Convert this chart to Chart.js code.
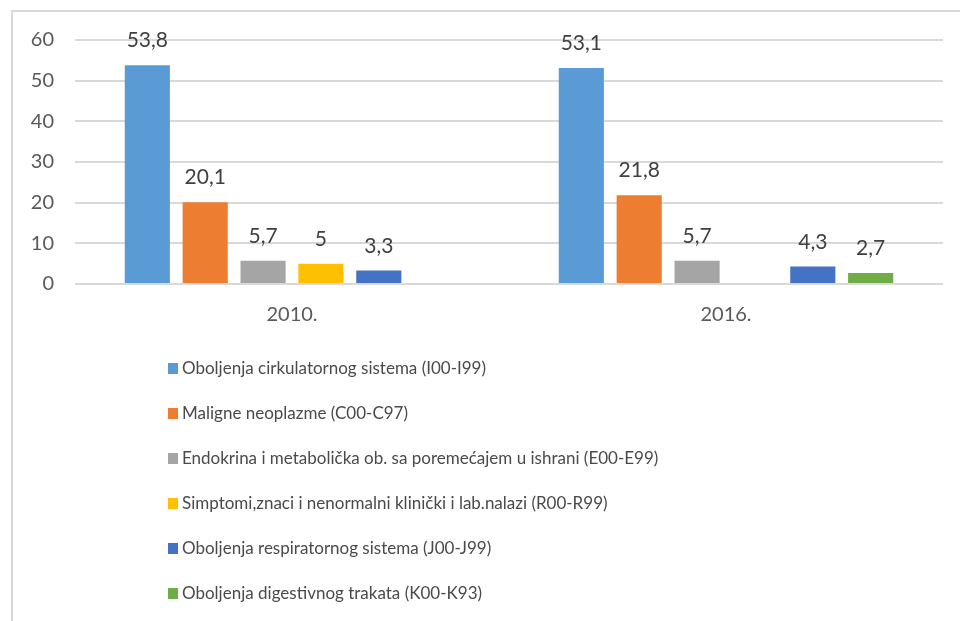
<!DOCTYPE html>
<html>
<head>
<meta charset="utf-8">
<script src="https://cdn.jsdelivr.net/npm/chart.js@4/dist/chart.umd.min.js"></script>
<style>
  html, body { margin: 0; padding: 0; background: #fff; overflow: hidden; }
  #wrap { position: relative; width: 960px; height: 621px; }
  #frame { position: absolute; left: 11px; top: 10px; width: 1000px; height: 700px; border: 2px solid #d9d9d9; box-sizing: border-box; }
  canvas { position: absolute; left: 0; top: 0; }
</style>
</head>
<body>
<div id="wrap">
  <div id="frame"></div>
  <canvas id="c" width="960" height="621"></canvas>
</div>
<script>
const categories = ['2010.', '2016.'];
const seriesNames = [
  'Oboljenja cirkulatornog sistema (I00-I99)',
  'Maligne neoplazme (C00-C97)',
  'Endokrina i metabolička ob. sa poremećajem u ishrani (E00-E99)',
  'Simptomi,znaci i nenormalni klinički i lab.nalazi (R00-R99)',
  'Oboljenja respiratornog sistema (J00-J99)',
  'Oboljenja digestivnog trakata (K00-K93)'
];
const cirkulatorno = [53.8, 53.1];
const neoplazme = [20.1, 21.8];
const endokrina = [5.7, 5.7];
const simptomi = [5, null];
const respiratorno = [3.3, 4.3];
const digestivno = [null, 2.7];
const seriesColors = ['#5B9BD5', '#ED7D31', '#A5A5A5', '#FFC000', '#4472C4', '#70AD47'];
const yTicks = [0, 10, 20, 30, 40, 50, 60];

const FONT = 'Lato, "Open Sans", sans-serif';
const allSeries = [cirkulatorno, neoplazme, endokrina, simptomi, respiratorno, digestivno];

const dataLabels = {
  id: 'dataLabels',
  afterDatasetsDraw(chart) {
    const ctx = chart.ctx;
    ctx.save();
    ctx.font = '21px ' + FONT;
    ctx.fillStyle = '#404040';
    ctx.textAlign = 'center';
    ctx.textBaseline = 'alphabetic';
    chart.data.datasets.forEach((ds, i) => {
      const meta = chart.getDatasetMeta(i);
      meta.data.forEach((bar, j) => {
        const v = ds.data[j];
        if (v === null || v === undefined) return;
        ctx.fillText(String(v).replace('.', ','), bar.x, bar.y - 18);
      });
    });
    ctx.restore();
  }
};

const customLegend = {
  id: 'customLegend',
  afterDraw(chart) {
    const ctx = chart.ctx;
    ctx.save();
    ctx.font = '17px ' + FONT;
    ctx.textBaseline = 'middle';
    ctx.textAlign = 'left';
    chart.data.datasets.forEach((ds, i) => {
      const cy = 368 + i * 45;
      ctx.fillStyle = ds.backgroundColor;
      ctx.fillRect(168, cy - 5, 10, 11);
      ctx.fillStyle = '#4a4a4a';
      ctx.fillText(ds.label, 182, cy + 1);
    });
    ctx.restore();
  }
};

new Chart(document.getElementById('c'), {
  type: 'bar',
  data: {
    labels: categories,
    datasets: allSeries.map((d, i) => ({
      label: seriesNames[i],
      data: d,
      backgroundColor: seriesColors[i],
      borderWidth: 0,
      categoryPercentage: 0.8,
      barPercentage: 0.78
    }))
  },
  options: {
    responsive: false,
    animation: false,
    layout: { padding: { left: 0, top: 40, right: 17, bottom: 297 } },
    plugins: {
      legend: { display: false },
      tooltip: { enabled: false }
    },
    scales: {
      x: {
        grid: { display: false, drawTicks: false },
        border: { display: false },
        ticks: { color: '#595959', font: { family: FONT, size: 20 }, padding: 19 },
        afterFit(scale) { scale.height = 40; }
      },
      y: {
        min: 0,
        max: 60,
        afterBuildTicks(scale) { scale.ticks = yTicks.map(v => ({ value: v })); },
        grid: { color: '#d9d9d9', lineWidth: 2, drawTicks: false },
        border: { display: false },
        ticks: { color: '#595959', font: { family: FONT, size: 20 }, padding: 21 },
        afterFit(scale) { scale.width = 75; }
      }
    }
  },
  plugins: [dataLabels, customLegend]
});
</script>
</body>
</html>
